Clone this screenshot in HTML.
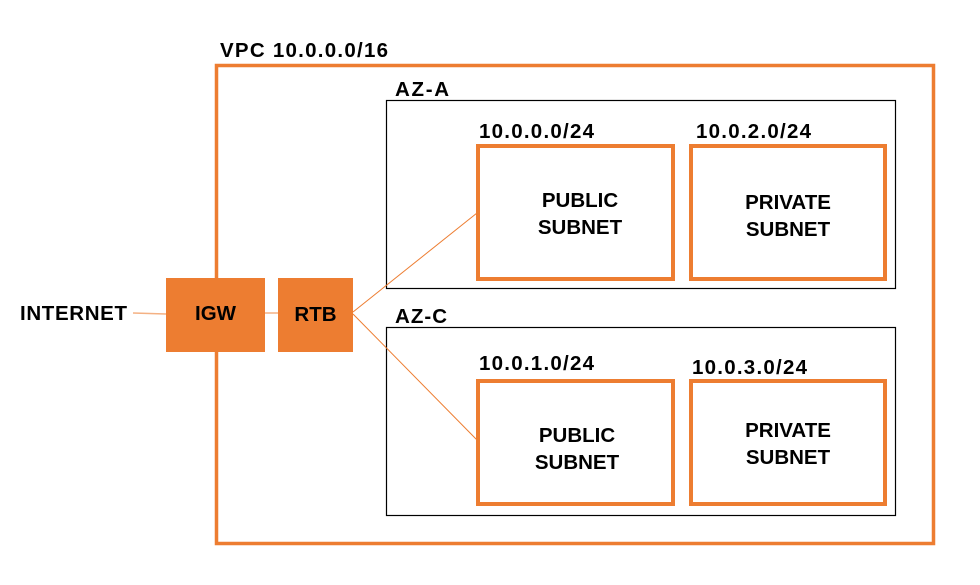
<!DOCTYPE html>
<html><head><style>
html,body{margin:0;padding:0;background:#fff;}
svg{display:block;}
text{font-family:"Liberation Sans",sans-serif;font-weight:bold;fill:#000;}
</style></head><body>
<svg width="980" height="585" viewBox="0 0 980 585" xmlns="http://www.w3.org/2000/svg">
<rect x="216.5" y="65.5" width="717" height="478" fill="none" stroke="#ED7D31" stroke-width="3.5"/>
<text x="220" y="57" font-size="20.5" textLength="168">VPC 10.0.0.0/16</text>
<rect x="386.5" y="100.5" width="509" height="188" fill="none" stroke="#000" stroke-width="1.2"/>
<text x="395" y="96" font-size="20.5" textLength="54">AZ-A</text>
<rect x="386.5" y="327.5" width="509" height="188" fill="none" stroke="#000" stroke-width="1.2"/>
<text x="395" y="323" font-size="20.5" textLength="52">AZ-C</text>
<line x1="133" y1="313" x2="166" y2="314" stroke="#F4B183" stroke-width="1.5"/>
<line x1="265" y1="313" x2="278" y2="313" stroke="#F4B183" stroke-width="1.5"/>
<line x1="353" y1="312" x2="477" y2="213" stroke="#ED7D31" stroke-width="1"/>
<line x1="353" y1="314" x2="477" y2="440" stroke="#ED7D31" stroke-width="1"/>
<rect x="166" y="278" width="99" height="74" fill="#ED7D31"/>
<text x="215.5" y="320" font-size="20.5" text-anchor="middle">IGW</text>
<rect x="278" y="278" width="75" height="74" fill="#ED7D31"/>
<text x="315.5" y="321" font-size="20.5" text-anchor="middle">RTB</text>
<text x="20" y="320" font-size="20.5" textLength="107">INTERNET</text>
<g fill="none" stroke="#ED7D31" stroke-width="4">
<rect x="478" y="146" width="195" height="133"/>
<rect x="691" y="146" width="194" height="133"/>
<rect x="478" y="381" width="195" height="123"/>
<rect x="691" y="381" width="194" height="123"/>
</g>
<g font-size="20.5">
<text x="479" y="138" textLength="115">10.0.0.0/24</text>
<text x="696" y="138" textLength="115">10.0.2.0/24</text>
<text x="479" y="370" textLength="115">10.0.1.0/24</text>
<text x="692" y="374" textLength="115">10.0.3.0/24</text>
</g>
<g font-size="20.5" text-anchor="middle">
<text x="580" y="207">PUBLIC</text><text x="580" y="234">SUBNET</text>
<text x="788" y="209">PRIVATE</text><text x="788" y="236">SUBNET</text>
<text x="577" y="442">PUBLIC</text><text x="577" y="469">SUBNET</text>
<text x="788" y="437">PRIVATE</text><text x="788" y="464">SUBNET</text>
</g>
</svg>
</body></html>
